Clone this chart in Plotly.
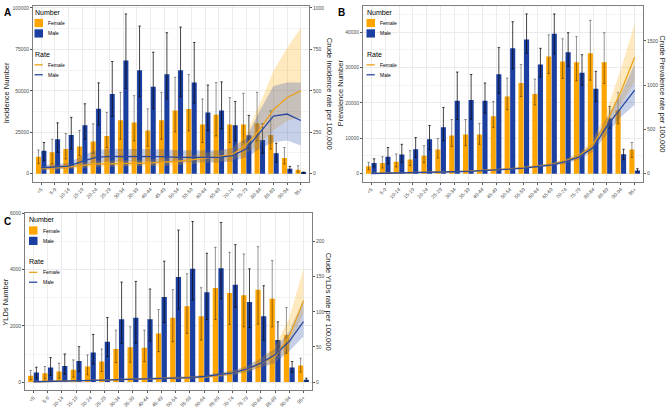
import plotly.graph_objects as go

ages = ["<5", "5-9", "10-14", "15-19", "20-24", "25-29", "30-34", "35-39", "40-44", "45-49",
        "50-54", "55-59", "60-64", "65-69", "70-74", "75-79", "80-84", "85-89", "90-94", "95+"]

# ---------------- Panel A: Incidence ----------------
inc_f = [10300, 12900, 14900, 16400, 19400, 22800, 32300, 30900, 26100, 32300,
         38200, 39000, 29700, 35600, 29700, 29700, 30500, 23400, 9500, 2400]
inc_f_hi = [14300, 20800, 24200, 26100, 30100, 37000, 49100, 47100, 39200, 49100,
            58200, 59800, 45100, 55000, 45900, 48500, 49100, 38000, 15800, 4800]
inc_f_lo = [6000, 6000, 8900, 10900, 12300, 15800, 20800, 19800, 16600, 20800,
            25200, 25800, 18800, 22800, 18800, 18800, 19800, 14900, 5900, 1000]
inc_m = [13900, 20800, 23400, 29300, 39200, 48100, 68300, 62400, 52500, 60000,
         62400, 55000, 37000, 38200, 29300, 23200, 20400, 12300, 3000, 600]
inc_m_hi = [18800, 30700, 34000, 42200, 54800, 67700, 96400, 89100, 73300, 85100,
            88500, 79200, 53500, 55400, 43600, 35200, 30100, 18400, 4400, 1000]
inc_m_lo = [7900, 12900, 14900, 20800, 29300, 34600, 51500, 46500, 39200, 45100,
            46500, 42600, 26100, 27100, 19800, 14900, 12300, 6900, 1600, 200]
inc_rf = [30, 34, 40, 50, 59, 59, 59, 63, 65, 69, 75, 83, 93, 103, 115, 174, 267, 386, 460, 500]
inc_rf_lo = [20, 24, 28, 35, 42, 42, 43, 45, 46, 48, 52, 58, 65, 72, 80, 125, 180, 260, 320, 340]
inc_rf_hi = [42, 46, 54, 68, 80, 80, 81, 84, 86, 92, 100, 110, 125, 140, 155, 240, 420, 620, 760, 880]
inc_rm = [36, 40, 46, 75, 99, 105, 105, 107, 107, 103, 99, 99, 99, 99, 109, 149, 248, 347, 360, 321]
inc_rm_lo = [24, 27, 32, 50, 68, 72, 72, 73, 73, 70, 67, 67, 67, 67, 73, 100, 150, 190, 200, 170]
inc_rm_hi = [52, 57, 65, 108, 142, 150, 150, 152, 152, 148, 142, 142, 142, 142, 155, 215, 380, 530, 550, 550]

# ---------------- Panel B: Prevalence ----------------
prev_f = [2100, 3000, 3400, 4000, 5100, 6800, 10800, 11100, 11100, 16200,
          21800, 25600, 22500, 33100, 31700, 31500, 34000, 31500, 17900, 6800]
prev_f_hi = [3200, 4800, 5600, 6500, 7900, 9900, 15300, 15300, 14200, 20400,
             27000, 30800, 26700, 39200, 38100, 38700, 43300, 39800, 23000, 8800]
prev_f_lo = [1100, 1600, 1900, 2300, 3100, 4400, 7700, 7900, 8300, 13100,
             18100, 21800, 19400, 28300, 26900, 26200, 26400, 25500, 14100, 4600]
prev_m = [3000, 4800, 5400, 6900, 9700, 13100, 20600, 20800, 20600, 28100,
          35400, 37900, 30800, 39500, 34300, 28500, 24000, 15600, 5500, 900]
prev_m_hi = [4200, 7400, 8300, 10200, 13600, 18700, 28700, 28000, 25600, 35600,
             42900, 45100, 35400, 45100, 39800, 33600, 28900, 19000, 6900, 1400]
prev_m_lo = [1900, 2800, 3100, 4600, 6800, 9300, 15300, 15400, 17100, 22700,
             29600, 34000, 27300, 33800, 30300, 25000, 20400, 12800, 3900, 500]
prev_rf = [3, 5, 7, 10, 14, 18, 23, 28, 35, 45, 55, 68, 85, 105, 145, 200, 330, 590, 925, 1315]
prev_rf_lo = [2, 4, 6, 8, 12, 15, 19, 24, 30, 38, 47, 58, 73, 90, 125, 172, 285, 490, 780, 1040]
prev_rf_hi = [4, 6, 8, 12, 16, 21, 27, 33, 41, 52, 64, 79, 98, 121, 167, 232, 390, 720, 1180, 1690]
prev_rm = [2, 4, 6, 9, 13, 17, 22, 27, 33, 42, 52, 64, 80, 100, 135, 190, 295, 537, 741, 944]
prev_rm_lo = [1, 3, 5, 7, 11, 14, 18, 22, 27, 35, 44, 54, 67, 84, 113, 160, 250, 450, 640, 780]
prev_rm_hi = [3, 5, 7, 11, 15, 20, 26, 32, 39, 49, 61, 75, 94, 117, 158, 222, 345, 640, 900, 1240]

# ---------------- Panel C: YLDs ----------------
yld_f = [224, 318, 377, 436, 554, 731, 1179, 1237, 1226, 1732,
         2286, 2699, 2345, 3347, 3170, 3088, 3288, 2970, 1673, 589]
yld_f_hi = [412, 554, 672, 790, 966, 1179, 1850, 1968, 1850, 2581,
            3288, 3854, 3359, 4797, 4620, 4561, 4821, 4326, 2652, 849]
yld_f_lo = [83, 118, 141, 177, 259, 377, 695, 707, 731, 1085,
            1438, 1732, 1497, 2227, 2050, 1968, 2062, 1968, 1025, 354]
yld_m = [342, 519, 577, 754, 1049, 1438, 2239, 2286, 2239, 3029,
         3736, 4031, 3194, 4055, 3465, 2852, 2345, 1497, 519, 82]
yld_m_hi = [530, 872, 1002, 1261, 1697, 2298, 3559, 3583, 3312, 4302,
            5410, 5716, 4585, 5681, 4891, 4031, 3430, 2145, 731, 141]
yld_m_lo = [141, 236, 283, 377, 637, 909, 1379, 1379, 1461, 2121,
            2593, 2923, 2227, 2970, 2663, 1944, 1497, 990, 354, 47]
yld_rf = [0.5, 0.8, 1.2, 1.6, 2.2, 2.8, 3.5, 4.0, 4.5, 5.0, 5.5, 6.0, 7.0, 9.5, 13, 17.5, 27, 36.5, 65, 116]
yld_rf_lo = [0.3, 0.5, 0.8, 1.1, 1.5, 2.0, 2.5, 3.0, 3.3, 3.7, 4.0, 4.5, 5.3, 7.0, 10, 13.5, 21, 27, 51, 98]
yld_rf_hi = [0.8, 1.2, 1.7, 2.2, 3.0, 3.7, 4.6, 5.2, 5.9, 6.5, 7.2, 7.8, 9.0, 12.2, 16.5, 22, 34, 51, 91, 162]
yld_rm = [0.5, 0.8, 1.2, 1.6, 2.2, 2.8, 3.5, 4.0, 4.5, 5.0, 5.5, 6.5, 8.0, 10.4, 13, 18.5, 27, 39, 58, 86]
yld_rm_lo = [0.3, 0.5, 0.8, 1.1, 1.5, 2.0, 2.5, 3.0, 3.3, 3.7, 4.0, 4.8, 6.0, 7.8, 10, 14.5, 21, 27, 44, 65]
yld_rm_hi = [0.8, 1.2, 1.7, 2.2, 3.0, 3.7, 4.6, 5.2, 5.9, 6.5, 7.2, 8.4, 10.2, 13.2, 16.5, 23, 34, 48, 72, 117]

W, H = 669, 409
FEM = "#FFA500"
MAL = "#1B3FA0"
FEM_L = "#EBA21A"
MAL_L = "#2B4A9E"
FEM_R = "rgba(255,175,20,0.28)"
MAL_R = "rgba(40,75,170,0.26)"
FONT = "Liberation Sans, Arial, sans-serif"

fig = go.Figure()


def add_panel(xn, yl, yr, nf, nf_lo, nf_hi, nm, nm_lo, nm_hi,
              rf, rf_lo, rf_hi, rm, rm_lo, rm_hi):
    xa = "x" if xn == 1 else "x%d" % xn
    ya = "y" if yl == 1 else "y%d" % yl
    yb = "y%d" % yr
    for name, vals, lo, hi, col, ecol, og in [
        ("Female", nf, nf_lo, nf_hi, FEM, "rgba(20,20,20,0.5)", "f"),
        ("Male", nm, nm_lo, nm_hi, MAL, "rgba(10,10,10,0.85)", "m"),
    ]:
        fig.add_trace(go.Bar(
            x=ages, y=vals, name=name, marker=dict(color=col, line=dict(width=0)),
            offsetgroup=og, xaxis=xa, yaxis=ya, showlegend=False,
            error_y=dict(type="data", symmetric=False,
                         array=[h - v for h, v in zip(hi, vals)],
                         arrayminus=[v - l for v, l in zip(vals, lo)],
                         color=ecol, thickness=0.9, width=1.2),
        ))
    for lo, hi, fc in [(rf_lo, rf_hi, FEM_R), (rm_lo, rm_hi, MAL_R)]:
        fig.add_trace(go.Scatter(
            x=ages + ages[::-1], y=hi + lo[::-1], fill="toself", fillcolor=fc,
            line=dict(width=0), mode="lines", hoverinfo="skip", showlegend=False,
            xaxis=xa, yaxis=yb,
        ))
    for name, vals, col in [("Female", rf, FEM_L), ("Male", rm, MAL_L)]:
        fig.add_trace(go.Scatter(
            x=ages, y=vals, mode="lines", name=name, line=dict(color=col, width=1.3),
            xaxis=xa, yaxis=yb, showlegend=False,
        ))


add_panel(1, 1, 2, inc_f, inc_f_lo, inc_f_hi, inc_m, inc_m_lo, inc_m_hi,
          inc_rf, inc_rf_lo, inc_rf_hi, inc_rm, inc_rm_lo, inc_rm_hi)
add_panel(2, 3, 4, prev_f, prev_f_lo, prev_f_hi, prev_m, prev_m_lo, prev_m_hi,
          prev_rf, prev_rf_lo, prev_rf_hi, prev_rm, prev_rm_lo, prev_rm_hi)
add_panel(3, 5, 6, yld_f, yld_f_lo, yld_f_hi, yld_m, yld_m_lo, yld_m_hi,
          yld_rf, yld_rf_lo, yld_rf_hi, yld_rm, yld_rm_lo, yld_rm_hi)


def xdom(a, b):
    return [a / W, b / W]


def ydom(top, bottom):
    return [1 - bottom / H, 1 - top / H]


TICKF = dict(size=5, color="#4D4D4D", family=FONT)
GRID = "#EBEBEB"
BORDER = "#7F7F7F"


def xaxis_cfg(dom, anchor):
    return dict(domain=dom, anchor=anchor, type="category", range=[-0.6, 19.6],
                tickangle=-45, tickfont=TICKF, showgrid=True, gridcolor=GRID, gridwidth=0.8,
                ticks="outside", ticklen=2, tickcolor="#555", tickwidth=0.6,
                showline=True, mirror=True, linecolor=BORDER, linewidth=0.8, zeroline=False)


def yleft_cfg(dom, anchor, rng, tv, minor_tv):
    return dict(domain=dom, anchor=anchor, range=rng, tickvals=tv, tickformat="d",
                tickfont=TICKF, showgrid=True, gridcolor=GRID, gridwidth=0.8,
                minor=dict(tickvals=minor_tv, showgrid=True, gridcolor="#F4F4F4", gridwidth=0.5, ticks=""),
                ticks="outside", ticklen=2, tickcolor="#555", tickwidth=0.6,
                showline=True, mirror=True, linecolor=BORDER, linewidth=0.8, zeroline=False)


def yright_cfg(over, anchor, rng, tv):
    return dict(overlaying=over, anchor=anchor, side="right", range=rng, tickvals=tv,
                tickformat="d", tickfont=TICKF, showgrid=False, zeroline=False,
                ticks="outside", ticklen=2, tickcolor="#555", tickwidth=0.6,
                showline=True, linecolor=BORDER, linewidth=0.8)


domA_x, domA_y = xdom(33, 309), ydom(3, 180)
domB_x, domB_y = xdom(363, 643), ydom(3, 180)
domC_x, domC_y = xdom(25, 312), ydom(212, 390)

fig.update_layout(
    width=W, height=H, margin=dict(l=0, r=0, t=0, b=0),
    paper_bgcolor="white", plot_bgcolor="white",
    font=dict(family=FONT, color="#000"),
    barmode="group", bargap=0.2, bargroupgap=0.08,
    showlegend=False,
    xaxis=xaxis_cfg(domA_x, "y"),
    yaxis=yleft_cfg(domA_y, "x", [-4820, 101220], [0, 25000, 50000, 75000, 100000],
                    [12500, 37500, 62500, 87500]),
    yaxis2=yright_cfg("y", "x", [-48.2, 1012.2], [0, 250, 500, 750, 1000]),
    xaxis2=xaxis_cfg(domB_x, "y3"),
    yaxis3=yleft_cfg(domB_y, "x2", [-2255, 47355], [0, 10000, 20000, 30000, 40000],
                     [5000, 15000, 25000, 35000, 45000]),
    yaxis4=yright_cfg("y3", "x2", [-90.2, 1894.2], [0, 500, 1000, 1500]),
    xaxis3=xaxis_cfg(domC_x, "y5"),
    yaxis5=yleft_cfg(domC_y, "x3", [-286, 6002], [0, 2000, 4000, 6000], [1000, 3000, 5000]),
    yaxis6=yright_cfg("y5", "x3", [-11.44, 240.08], [0, 50, 100, 150, 200]),
)


def px(x, y):
    return x / W, 1 - y / H


ann = []
shapes = []


def text_at(txt, x, y, size, color="#000", xanchor="left", angle=0):
    xx, yy = px(x, y)
    ann.append(dict(text=txt, x=xx, y=yy, xref="paper", yref="paper", xanchor=xanchor,
                    yanchor="middle", textangle=angle, showarrow=False, borderpad=0,
                    font=dict(size=size, color=color, family=FONT)))


def manual_legend(dx, dy):
    text_at("Number", 33.5 + dx, 9.5 + dy, 7)
    for i, (name, col) in enumerate([("Female", FEM), ("Male", MAL)]):
        y0 = 16 + dy + i * 10.5
        x0, y0p = px(34.5 + dx, y0)
        x1, y1p = px(43 + dx, y0 + 8.3)
        shapes.append(dict(type="rect", xref="paper", yref="paper", x0=x0, x1=x1, y0=y1p, y1=y0p,
                           fillcolor=col, line=dict(width=0)))
        text_at(name, 47 + dx, y0 + 4.2, 5)
    text_at("Rate", 33.5 + dx, 51.7 + dy, 7)
    for i, (name, col) in enumerate([("Female", FEM_L), ("Male", MAL_L)]):
        yl = 62.3 + dy + i * 10
        x0, yp = px(34.5 + dx, yl)
        x1, _ = px(42.8 + dx, yl)
        shapes.append(dict(type="line", xref="paper", yref="paper", x0=x0, x1=x1, y0=yp, y1=yp,
                           line=dict(color=col, width=1.3)))
        text_at(name, 47 + dx, yl, 5)


manual_legend(0, 0)
manual_legend(332, 0)
manual_legend(-5.5, 209)

for txt, xp, yp in [("A", 2, 2), ("B", 336, 2), ("C", 2, 213)]:
    xx, yy = px(xp, yp)
    ann.append(dict(text="<b>%s</b>" % txt, x=xx, y=yy, xref="paper", yref="paper",
                    xanchor="left", yanchor="top", showarrow=False,
                    font=dict(size=10, color="#000", family=FONT)))

for txt, xp, yp, ang in [
    ("Incidence Number", 6, 91, -90),
    ("Crude Incidence rate per 100,000", 329.5, 91, 90),
    ("Prevalence Number", 340, 91, -90),
    ("Crude Prevalence rate per 100,000", 663, 91, 90),
    ("YLDs Number", 6, 301, -90),
    ("Crude YLDs rate per 100,000", 328, 301, 90),
]:
    text_at(txt, xp, yp, 7.5, color="#1A1A1A", xanchor="center", angle=ang)

fig.update_layout(annotations=ann, shapes=shapes)

fig.write_html("out.html")
